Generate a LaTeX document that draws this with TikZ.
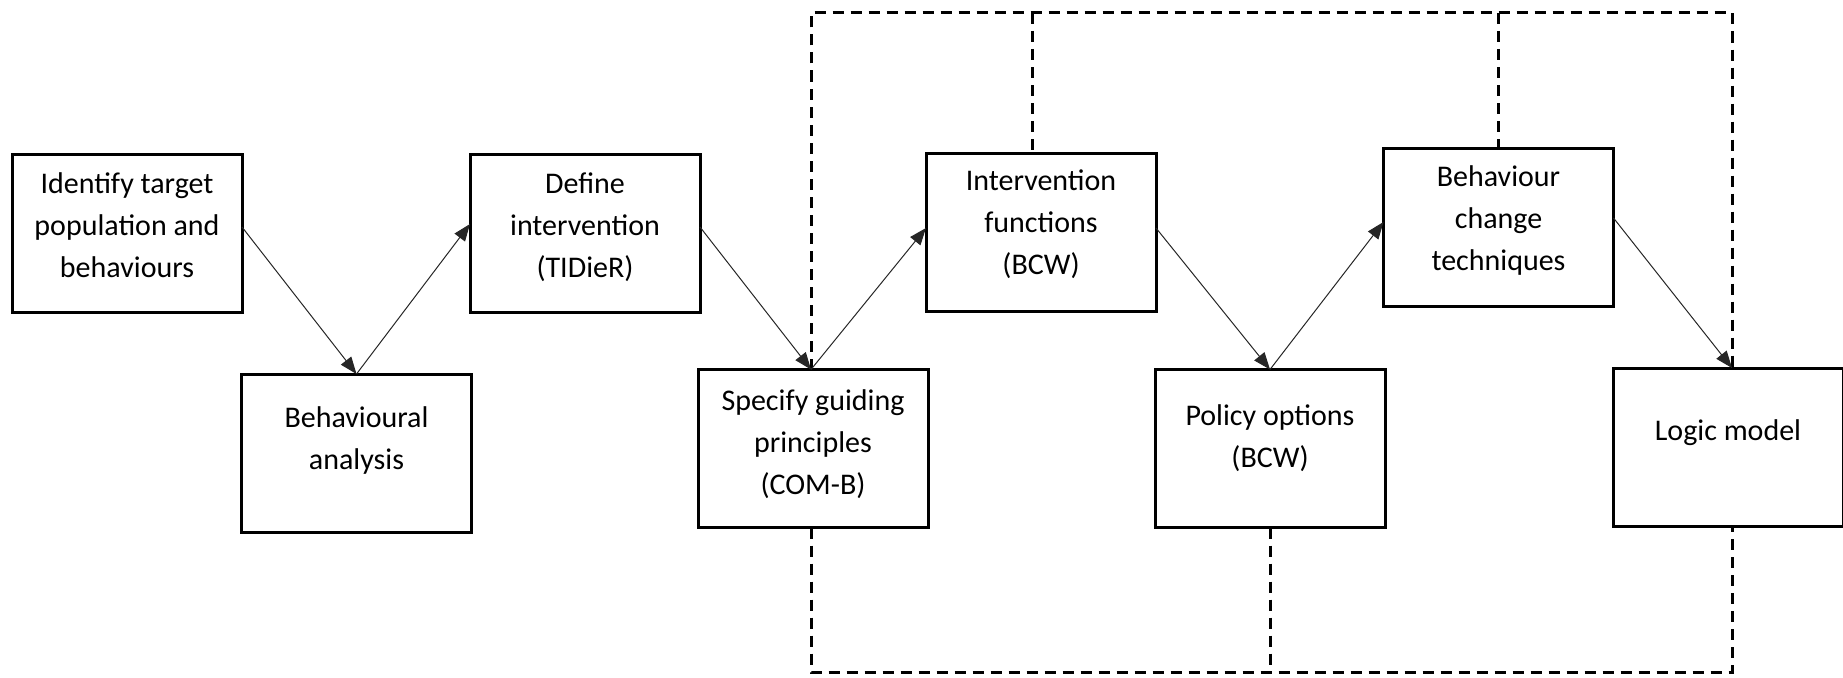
\documentclass[tikz,border=0pt]{standalone}
\usepackage{fontspec}
\setmainfont{Carlito}
\usetikzlibrary{arrows.meta}
\begin{document}
\begin{tikzpicture}[x=1pt,y=-1pt,
  stage/.style={draw=black, line width=3pt, minimum width=230pt, minimum height=158pt,
    inner sep=0pt, outer sep=0pt},
  stagetext/.style={align=center, font=\fontsize{30}{42}\selectfont, inner sep=0pt},
  flow/.style={draw=black!85, line width=1pt, -{Triangle[length=17pt,width=13pt]}},
  link/.style={draw=black, line width=3pt, dash pattern=on 11pt off 7pt}]
\useasboundingbox (0,0) rectangle (1843,677);

% stage boxes
\node[stage] (b1) at (127,233) {};
\node[stage] (b2) at (356.5,453) {};
\node[stage] (b3) at (585,233) {};
\node[stage] (b4) at (813,448.5) {};
\node[stage] (b5) at (1041,232) {};
\node[stage] (b6) at (1270,448.5) {};
\node[stage] (b7) at (1498.5,227) {};
\node[stage] (b8) at (1728,447) {};

% stage labels
\node[stagetext] (t1) at ([yshift=8pt]b1.center) {Identify target\\population and\\behaviours};
\node[stagetext] (t2) at ([yshift=13pt]b2.center) {Behavioural\\analysis};
\node[stagetext] (t3) at ([yshift=6pt]b3.center) {Define\\intervention\\(TIDieR)};
\node[stagetext] (t4) at ([yshift=4pt]b4.center) {Specify guiding\\principles\\(COM-B)};
\node[stagetext] (t5) at ([yshift=8pt]b5.center) {Intervention\\functions\\(BCW)};
\node[stagetext] (t6) at ([yshift=10pt]b6.center) {Policy options\\(BCW)};
\node[stagetext] (t7) at ([yshift=7pt]b7.center) {Behaviour\\change\\techniques};
\node[stagetext] (t8) at ([yshift=14pt]b8.center) {Logic model};

% dashed frame linking the later stages
\coordinate (ta) at (811,13);
\coordinate (tb) at (1032,13);
\coordinate (tc) at (1498,13);
\coordinate (td) at (1732,13);
\coordinate (ba) at (811,672);
\coordinate (bb) at (1270,672);
\coordinate (bd) at (1732,672);
\draw[link] (b4.north -| ta) -- (ta) -- (td) -- (b8.north -| td);
\draw[link] (tb) -- (b5.north -| tb);
\draw[link] (tc) -- (b7.north -| tc);
\draw[link] (b4.south -| ba) -- (ba) -- (bd) -- (b8.south -| bd);
\draw[link] (b6.south -| bb) -- (bb);

% zig-zag flow between stages
\draw[flow] ([yshift=6pt]b1.east) -- (b2.north);
\draw[flow] (b2.north) -- ([yshift=9pt]b3.west);
\draw[flow] ([yshift=6pt]b3.east) -- (b4.north -| ta);
\draw[flow] (b4.north -| ta) -- ([yshift=4pt]b5.west);
\draw[flow] ([yshift=4pt]b5.east) -- (b6.north);
\draw[flow] (b6.north) -- ([yshift=5pt]b7.west);
\draw[flow] ([yshift=9pt]b7.east) -- (b8.north -| td);
\end{tikzpicture}
\end{document}
